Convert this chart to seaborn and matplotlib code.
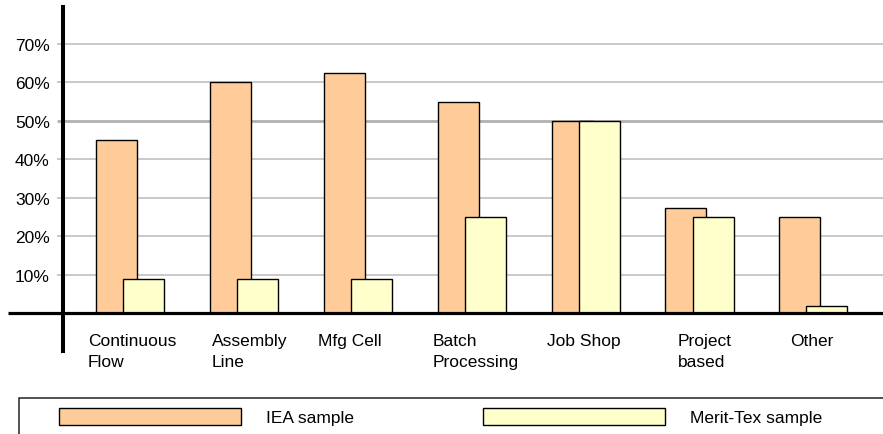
import numpy as np
import matplotlib
matplotlib.use("Agg")
import matplotlib.pyplot as plt
from matplotlib.patches import Patch, Rectangle
import seaborn as sns

# data
categories = ["Continuous\nFlow", "Assembly\nLine", "Mfg Cell", "Batch\nProcessing",
              "Job Shop", "Project\nbased", "Other"]
iea_sample = [45, 60, 62.5, 55, 50, 27.5, 25]
merit_sample = [9, 9, 9, 25, 50, 25, 2]
yticks = [10, 20, 30, 40, 50, 60, 70]
ytick_labels = ["10%", "20%", "30%", "40%", "50%", "60%", "70%"]
series_names = ["IEA sample", "Merit-Tex sample"]
colors = ["#FFCC99", "#FFFFCC"]

sns.set_style("white")
plt.rcParams["font.family"] = ["Liberation Sans", "DejaVu Sans"]
plt.rcParams["text.color"] = "black"
plt.rcParams["ytick.labelcolor"] = "black"
fs = 12.5

W, H = 883, 435
fig = plt.figure(figsize=(W / 100, H / 100), dpi=100)

# layout in pixels
ax_left, ax_top, ax_bottom = 63, 8, 352
x0_px, unit_px = 129.85, 113.93        # first group centre, group spacing
y0_px, per_unit = 314.3, 269.3 / 70    # baseline, px per percent

ax = fig.add_axes([ax_left / W, 1 - ax_bottom / H, (W - ax_left) / W, (ax_bottom - ax_top) / H])

def xd(px):
    return (px - x0_px) / unit_px

pos = np.arange(len(categories))
off = 0.119
sns.barplot(x=pos - off, y=iea_sample, native_scale=True, width=0.36, color=colors[0],
            saturation=1, edgecolor="black", linewidth=1.0, ax=ax, zorder=2)
sns.barplot(x=pos + off, y=merit_sample, native_scale=True, width=0.36, color=colors[1],
            saturation=1, edgecolor="black", linewidth=1.0, ax=ax, zorder=2)

ax.set_xlim(xd(ax_left), xd(W))
ax.set_ylim(-(ax_bottom - y0_px) / per_unit, (y0_px - ax_top) / per_unit)
ax.set_xlabel("")
ax.set_ylabel("")

# gridlines (they poke out left of the axis as tick marks)
for t in yticks:
    if t == 50:
        ax.hlines(t, xd(57), xd(W), color="#b0b0b0", lw=2.0, zorder=1, clip_on=False)
    else:
        ax.hlines(t, xd(57), xd(W), color="#c0c0c0", lw=1.2, zorder=1, clip_on=False)
ax.hlines(0, xd(8), xd(W), color="black", lw=2.3, zorder=4, clip_on=False)

ax.set_yticks(yticks)
ax.set_yticklabels(ytick_labels, fontsize=fs, color="black")
ax.tick_params(axis="y", length=0, pad=9.5)
ax.set_xticks([])
for s in ["top", "right", "bottom"]:
    ax.spines[s].set_visible(False)
ax.spines["left"].set_linewidth(2.9)
ax.spines["left"].set_color("black")
ax.spines["left"].set_zorder(5)

# category labels, left aligned under each group
label_dx_px = [-42, -32, -40, -39, -39, -22, -23]
for i, lab in enumerate(categories):
    ax.text(i + label_dx_px[i] / unit_px, (ax_bottom - 334) / (ax_bottom - ax_top), lab,
            transform=ax.get_xaxis_transform(), ha="left", va="top",
            fontsize=fs, linespacing=1.5, color="black")

# legend box, cut by the figure edge on the right and bottom
fig.add_artist(Rectangle((19 / W, -0.05), 1.0, (H - 399) / H + 0.05,
                         transform=fig.transFigure, fill=False, edgecolor="#222222", lw=1.1))
handles = [Patch(facecolor=c, edgecolor="black", lw=1.0) for c in colors]
fs_px = fs * 100 / 72
leg = fig.legend(handles, series_names, loc="upper left", ncol=2, frameon=False,
                 bbox_to_anchor=(59 / W, 1 - 409 / H), borderpad=0, borderaxespad=0,
                 fontsize=fs, handlelength=182 / fs_px, handleheight=19 / fs_px,
                 handletextpad=25 / fs_px, columnspacing=129 / fs_px)
for t in leg.get_texts():
    t.set_color("black")

fig.savefig("out.png", dpi=100)
